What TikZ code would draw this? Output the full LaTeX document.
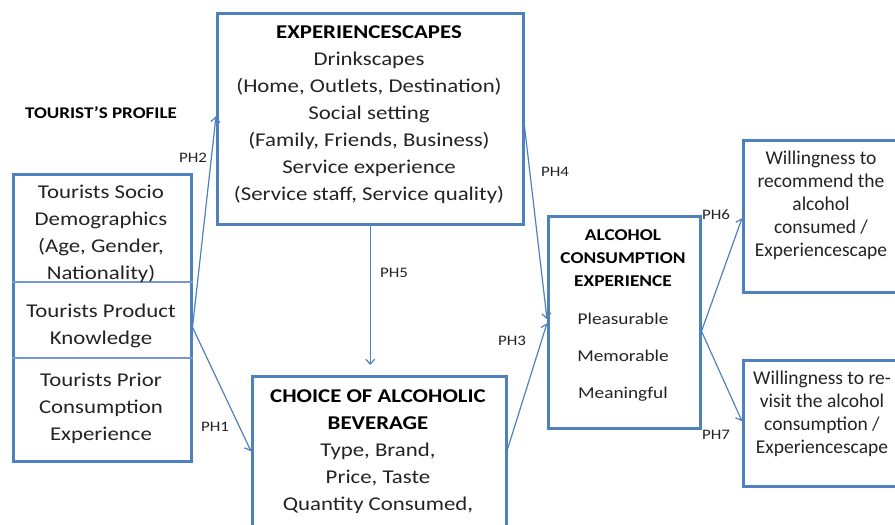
\documentclass[tikz,border=0pt]{standalone}
\usepackage{fontspec}
\setmainfont{Carlito}[FakeStretch=1.17]
\newfontfamily\plainfont{Carlito}
\usetikzlibrary{arrows.meta}
\tikzset{% change default arrow tips
    >={Straight Barb[length=5pt,width=9pt]}
}
\definecolor{boxblue}{RGB}{79,129,189}
\definecolor{textgrey}{RGB}{35,35,35}

\begin{document}
\begin{tikzpicture}[x=1pt,y=-1pt]
    \newcommand{\mainsize}{\fontsize{19.5}{27}\selectfont}
    \newcommand{\willsize}{\plainfont\fontsize{19.5}{23}\selectfont}
    \newcommand{\alcsize}{\fontsize{16.5}{23}\selectfont}

    % set the styles of boxes, texts and links
    \tikzset{
        frame/.style={draw=boxblue, line width=2.5pt, inner sep=0pt, anchor=north west},
        txt/.style={align=center, text=textgrey, inner sep=0pt},
        divider/.style={draw=boxblue!80, line width=1.3pt},
        link/.style={->, draw=boxblue, line width=1.2pt},
        phlabel/.style={text=textgrey, inner sep=0pt, font=\fontsize{14.5}{17}\selectfont}
    }

    \useasboundingbox (0,0) rectangle (895,525);
    \clip (0,0) rectangle (895,525);

    % boxes
    \node[frame, minimum width=178pt, minimum height=287pt] (prof) at (12,173) {};
    \node[frame, minimum width=306pt, minimum height=211pt] (scape) at (216,12) {};
    \node[frame, minimum width=254pt, minimum height=185pt] (choice) at (251,375) {};
    \node[frame, minimum width=152pt, minimum height=212pt] (alc) at (547,215) {};
    \node[frame, minimum width=180pt, minimum height=152pt] (rec) at (742,139) {};
    \node[frame, minimum width=180pt, minimum height=126pt] (rev) at (742,359) {};

    % parts of the tourist's profile
    \coordinate (cutA) at (0,282);
    \coordinate (cutB) at (0,358);
    \draw[divider] (prof.west |- cutA) -- (prof.east |- cutA);
    \draw[divider] (prof.west |- cutB) -- (prof.east |- cutB);

    % texts
    \node[font=\bfseries\fontsize{16.3}{19}\selectfont, inner sep=0pt] (title) at (101,113) {TOURIST’S PROFILE};
    \node[txt, font=\mainsize] (socio) at (101,234) {Tourists Socio\\Demographics\\(Age, Gender,\\Nationality)};
    \node[txt, font=\mainsize] (know) at (101,326) {Tourists Product\\Knowledge};
    \node[txt, font=\mainsize] (prior) at (101,408) {Tourists Prior\\Consumption\\Experience};
    \node[txt, font=\mainsize] (scapetext) at (369,115) {\textbf{\textcolor{black}{EXPERIENCESCAPES}}\\Drinkscapes\\(Home, Outlets, Destination)\\Social setting\\(Family, Friends, Business)\\Service experience\\(Service staff, Service quality)};
    \node[txt, font=\mainsize] (choicetext) at (378,452) {\textbf{\textcolor{black}{CHOICE OF ALCOHOLIC}}\\\textbf{\textcolor{black}{BEVERAGE}}\\Type, Brand,\\Price, Taste\\Quantity Consumed,};
    \node[txt, font=\alcsize] (alctext) at (623,316) {\textbf{\textcolor{black}{ALCOHOL}}\\\textbf{\textcolor{black}{CONSUMPTION}}\\\textbf{\textcolor{black}{EXPERIENCE}}\\[15pt]Pleasurable\\[14pt]Memorable\\[14pt]Meaningful};
    \node[txt, font=\willsize] (rectext) at (821,205) {Willingness to\\recommend the\\alcohol\\consumed /\\Experiencescape};
    \node[txt, font=\willsize] (revtext) at (822,414) {Willingness to re-\\visit the alcohol\\consumption /\\Experiencescape};

    % links
    \draw[link] ([yshift=-9.5pt]prof.east) -- ([yshift=2.5pt]scape.west);
    \draw[link] ([yshift=-9.5pt]prof.east) -- ([yshift=17.5pt]choice.west);
    \draw[link] (scape.south) -- ([yshift=10pt]scape.south |- choice.north);
    \draw[link] ([yshift=-7.5pt]scape.east) -- ([yshift=3pt]alc.west);
    \draw[link] ([yshift=19.5pt]choice.east) -- ([yshift=-1pt]alc.west);
    \draw[link] ([yshift=-9pt]alc.east) -- ([yshift=-2pt]rec.west);
    \draw[link] ([yshift=-9pt]alc.east) -- ([yshift=2pt]rev.west);

    % link labels
    \node[phlabel] (ph1) at (215,427) {PH1};
    \node[phlabel] (ph2) at (193,158) {PH2};
    \node[phlabel] (ph3) at (512,341) {PH3};
    \node[phlabel] (ph4) at (555,172) {PH4};
    \node[phlabel] (ph5) at (394,273) {PH5};
    \node[phlabel] (ph6) at (716,215) {PH6};
    \node[phlabel] (ph7) at (716,435) {PH7};
\end{tikzpicture}
\end{document}
